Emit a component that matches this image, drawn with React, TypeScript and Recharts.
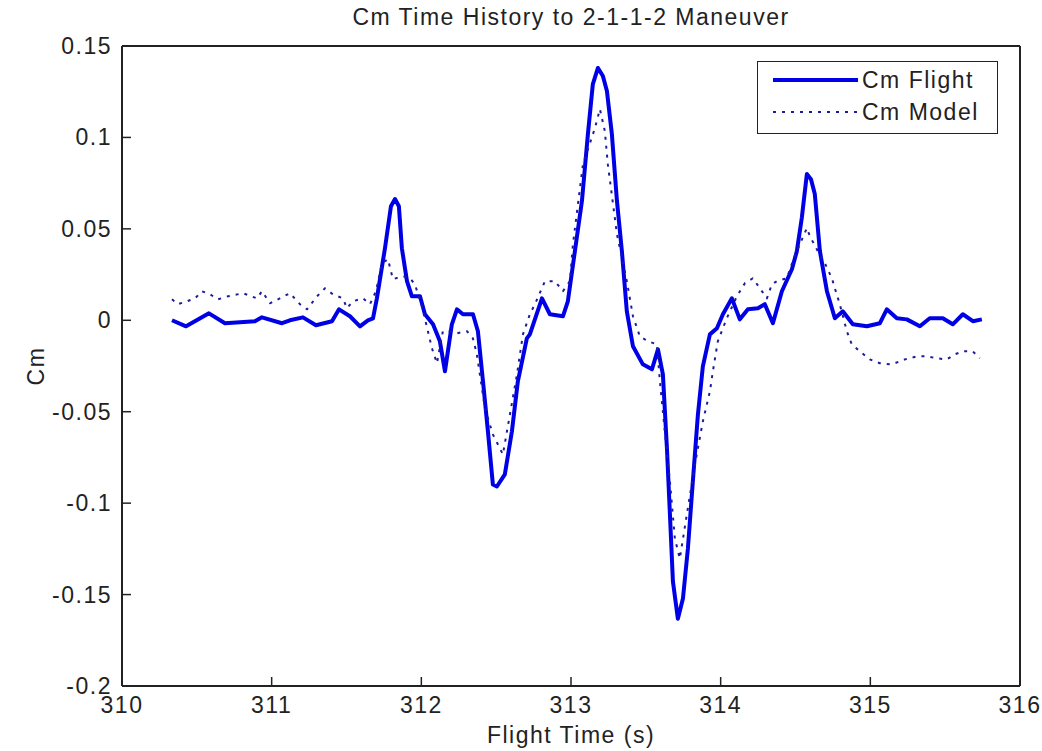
import { LineChart, Line, XAxis, YAxis } from 'recharts';

// Cm flight data (time in s, Cm)
const flightTime = [
  310.334, 310.428, 310.581, 310.688, 310.888, 310.935, 311.069, 311.122, 311.209, 311.296,
  311.403, 311.45, 311.523, 311.59, 311.643, 311.677, 311.703, 311.757, 311.797, 311.824,
  311.85, 311.87, 311.904, 311.937, 311.991, 312.024, 312.078, 312.124, 312.158, 312.204,
  312.238, 312.278, 312.345, 312.378, 312.412, 312.445, 312.478, 312.505, 312.558, 312.605,
  312.645, 312.705, 312.725, 312.806, 312.859, 312.946, 312.979, 313.026, 313.073, 313.113,
  313.146, 313.18, 313.213, 313.24, 313.273, 313.307, 313.34, 313.373, 313.414, 313.48,
  313.541, 313.581, 313.614, 313.641, 313.661, 313.681, 313.714, 313.748, 313.781, 313.814,
  313.848, 313.881, 313.928, 313.975, 314.015, 314.075, 314.128, 314.182, 314.249, 314.295,
  314.349, 314.409, 314.476, 314.509, 314.542, 314.576, 314.603, 314.629, 314.663, 314.71,
  314.763, 314.816, 314.883, 314.977, 315.064, 315.11, 315.177, 315.244, 315.331, 315.397,
  315.484, 315.551, 315.618, 315.685, 315.745,
];
const flightCm = [
  0, -0.0033, 0.0038, -0.0016, -0.0005, 0.0016, -0.0016, 0, 0.0016, -0.0027,
  -0.0005, 0.006, 0.0022, -0.0033, 0, 0.0011, 0.012, 0.0394, 0.0624, 0.0663,
  0.0624, 0.0394, 0.0214, 0.0131, 0.0131, 0.0033, -0.0022, -0.0115, -0.0279, -0.0022,
  0.006, 0.0033, 0.0033, -0.006, -0.0334, -0.0608, -0.0898, -0.0909, -0.0843, -0.0608,
  -0.0334, -0.0099, -0.0077, 0.012, 0.0033, 0.0022, 0.0104, 0.0378, 0.0652, 0.1019,
  0.1292, 0.138, 0.1336, 0.1254, 0.1019, 0.0652, 0.0378, 0.0049, -0.0142, -0.0241,
  -0.0268, -0.0159, -0.0296, -0.0701, -0.1062, -0.1429, -0.1632, -0.1522, -0.1249, -0.0882,
  -0.0515, -0.0252, -0.0077, -0.0044, 0.0033, 0.012, 0.0005, 0.006, 0.0066, 0.0088,
  -0.0016, 0.0159, 0.0279, 0.0378, 0.0559, 0.08, 0.0772, 0.069, 0.0378, 0.0159,
  0.0011, 0.0049, -0.0022, -0.0033, -0.0016, 0.006, 0.0011, 0.0005, -0.0033, 0.0011,
  0.0011, -0.0022, 0.0033, -0.0005, 0.0005,
];

// Cm model data
const modelTime = [
  310.334, 310.374, 310.434, 310.488, 310.534, 310.588, 310.641, 310.708, 310.808, 310.902,
  310.935, 310.989, 311.055, 311.122, 311.189, 311.236, 311.303, 311.356, 311.409, 311.476,
  311.503, 311.543, 311.61, 311.657, 311.697, 311.737, 311.777, 311.81, 311.877, 311.924,
  311.957, 312.004, 312.044, 312.071, 312.104, 312.144, 312.191, 312.238, 312.305, 312.345,
  312.371, 312.425, 312.478, 312.512, 312.545, 312.592, 312.639, 312.679, 312.725, 312.759,
  312.826, 312.892, 312.946, 312.993, 313.013, 313.08, 313.16, 313.193, 313.226, 313.246,
  313.307, 313.373, 313.414, 313.46, 313.514, 313.574, 313.594, 313.627, 313.661, 313.694,
  313.727, 313.774, 313.828, 313.881, 313.928, 313.948, 313.981, 314.041, 314.108, 314.162,
  314.215, 314.262, 314.309, 314.342, 314.376, 314.442, 314.482, 314.529, 314.576, 314.596,
  314.649, 314.696, 314.743, 314.763, 314.796, 314.843, 314.876, 314.93, 314.997, 315.064,
  315.144, 315.23, 315.311, 315.377, 315.444, 315.511, 315.564, 315.618, 315.685, 315.731,
];
const modelCm = [
  0.0115, 0.0088, 0.0104, 0.012, 0.0159, 0.0142, 0.0115, 0.0131, 0.0148, 0.012,
  0.0159, 0.0093, 0.012, 0.0148, 0.0088, 0.006, 0.0131, 0.0175, 0.0142, 0.012,
  0.0066, 0.0104, 0.012, 0.0088, 0.0159, 0.0312, 0.0334, 0.0225, 0.0241, 0.023,
  0.0197, 0.0077, -0.006, -0.0153, -0.0235, -0.006, -0.006, -0.0071, -0.006, -0.0099,
  -0.0186, -0.0482, -0.0624, -0.0679, -0.0734, -0.0515, -0.0296, -0.0077, 0.0033, 0.0088,
  0.0214, 0.0214, 0.0159, 0.0214, 0.0416, 0.0854, 0.1051, 0.1155, 0.1035, 0.0854,
  0.0471, 0.0214, 0.0022, -0.0088, -0.0115, -0.0131, -0.0334, -0.0608, -0.0882, -0.1194,
  -0.1303, -0.1062, -0.0789, -0.0553, -0.0389, -0.0279, -0.0115, 0.0011, 0.0131, 0.0203,
  0.023, 0.0175, 0.012, 0.0197, 0.0214, 0.023, 0.0323, 0.0416, 0.0504, 0.046,
  0.0378, 0.0312, 0.023, 0.0175, 0.0088, -0.006, -0.0131, -0.017, -0.0214, -0.0235,
  -0.0241, -0.0214, -0.0197, -0.0197, -0.0208, -0.0214, -0.0186, -0.017, -0.017, -0.0208,
];

const xTicks = [310, 311, 312, 313, 314, 315, 316];
const yTicks = [-0.2, -0.15, -0.1, -0.05, 0, 0.05, 0.1, 0.15];

const flightData = flightTime.map((t, i) => ({ t, flight: flightCm[i] }));
const modelData = modelTime.map((t, i) => ({ t, model: modelCm[i] }));

const series = [
  { key: 'flight', name: 'Cm Flight', data: flightData, color: '#0000e6', width: 4, dash: undefined },
  { key: 'model', name: 'Cm Model', data: modelData, color: '#1c1c9a', width: 2, dash: '3 6' },
];

const FONT = '"Liberation Sans", Arial, sans-serif';
const textStyle = { fontFamily: FONT, fontSize: 23, letterSpacing: 1.5, fill: '#222' };
const AXIS = '#222';
const TICK = 9;

const fmt = (v) => String(Number(v.toFixed(2)));

const BottomTick = ({ x, y, payload }) => (
  <g>
    <line x1={x} x2={x} y1={y} y2={y - TICK} stroke={AXIS} strokeWidth={1.5} />
    <text x={x} y={y + 27} textAnchor="middle" style={textStyle}>{fmt(payload.value)}</text>
  </g>
);
const LeftTick = ({ x, y, payload }) => (
  <g>
    <line x1={x} x2={x + TICK} y1={y} y2={y} stroke={AXIS} strokeWidth={1.5} />
    <text x={x - 10} y={y + 8} textAnchor="end" style={textStyle}>{fmt(payload.value)}</text>
  </g>
);
const TopTick = ({ x, y }) => (
  <line x1={x} x2={x} y1={y} y2={y + TICK} stroke={AXIS} strokeWidth={1.5} />
);
const RightTick = ({ x, y }) => (
  <line x1={x} x2={x - TICK} y1={y} y2={y} stroke={AXIS} strokeWidth={1.5} />
);

const Legend = () => (
  <div style={{ position: 'absolute', left: 757, top: 61, width: 241, height: 73, border: '1.5px solid #222', background: '#fff', boxSizing: 'border-box' }}>
    {series.map((s, i) => (
      <div key={s.key} style={{ position: 'absolute', left: 0, top: 4 + i * 32, height: 28, width: '100%' }}>
        <svg width={100} height={28} style={{ position: 'absolute', left: 13, top: 0 }}>
          <line x1={2} x2={87} y1={14} y2={14} stroke={s.color} strokeWidth={s.width} strokeDasharray={s.dash} />
        </svg>
        <span style={{ position: 'absolute', left: 104, top: 0, lineHeight: '28px', fontFamily: FONT, fontSize: 23, letterSpacing: 1.5, color: '#222' }}>{s.name}</span>
      </div>
    ))}
  </div>
);

export default function App() {
  return (
    <div style={{ position: 'absolute', left: 0, top: 0, width: 1042, height: 751, background: '#fff' }}>
      <div style={{ position: 'absolute', left: 122, width: 898, top: 4, textAlign: 'center', fontFamily: FONT, fontSize: 23, letterSpacing: 1.5, color: '#222' }}>
        Cm Time History to 2-1-1-2 Maneuver
      </div>
      <div style={{ position: 'absolute', left: 122, width: 898, top: 722, textAlign: 'center', fontFamily: FONT, fontSize: 23, letterSpacing: 1.5, color: '#222' }}>
        Flight Time (s)
      </div>
      <div style={{ position: 'absolute', left: 36, top: 366, transform: 'translate(-50%, -50%) rotate(-90deg)', fontFamily: FONT, fontSize: 23, letterSpacing: 1.5, color: '#222' }}>
        Cm
      </div>
      <div style={{ position: 'absolute', left: 0, top: 0 }}>
        <LineChart width={1042} height={751} margin={{ top: 45, right: 21, bottom: 0, left: 2 }}>
          <XAxis dataKey="t" type="number" domain={[310, 316]} ticks={xTicks} allowDataOverflow
            height={65} tickSize={0} tickMargin={0} tickLine={false} tick={BottomTick}
            axisLine={{ stroke: AXIS, strokeWidth: 2 }} />
          <XAxis xAxisId="top" orientation="top" dataKey="t" type="number" domain={[310, 316]} ticks={xTicks}
            height={1} tickSize={0} tickMargin={0} tickLine={false} tick={TopTick}
            axisLine={{ stroke: AXIS, strokeWidth: 2 }} />
          <YAxis type="number" domain={[-0.2, 0.15]} ticks={yTicks} allowDataOverflow width={120}
            tickSize={0} tickMargin={0} tickLine={false} tick={LeftTick}
            axisLine={{ stroke: AXIS, strokeWidth: 2 }} />
          <YAxis yAxisId="right" orientation="right" type="number" domain={[-0.2, 0.15]} ticks={yTicks} width={1}
            tickSize={0} tickMargin={0} tickLine={false} tick={RightTick}
            axisLine={{ stroke: AXIS, strokeWidth: 2 }} />
          {series.map((s) => (
            <Line key={s.key} data={s.data} dataKey={s.key} name={s.name} type="linear"
              stroke={s.color} strokeWidth={s.width} strokeDasharray={s.dash}
              strokeLinejoin="round" dot={false} activeDot={false} isAnimationActive={false} />
          ))}
        </LineChart>
      </div>
      <Legend />
    </div>
  );
}
